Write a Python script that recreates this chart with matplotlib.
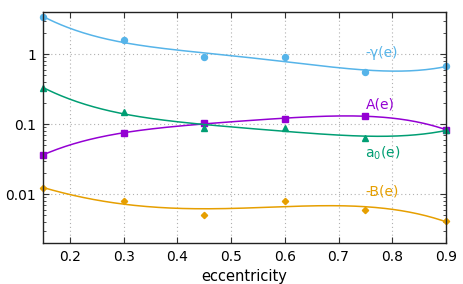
import numpy as np
import matplotlib
matplotlib.use("Agg")
import matplotlib.pyplot as plt
from matplotlib.ticker import LogLocator, FixedLocator, NullFormatter

# eccentricity samples and the four coefficient series
ecc = [0.15, 0.30, 0.45, 0.60, 0.75, 0.90]
gamma = [3.41, 1.57, 0.906, 0.897, 0.553, 0.674]
A = [0.0364, 0.0744, 0.103, 0.119, 0.131, 0.083]
a0 = [0.33, 0.148, 0.0885, 0.088, 0.0637, 0.082]
B = [0.0122, 0.0079, 0.0051, 0.0080, 0.0060, 0.0041]

x_ticks = [0.2, 0.3, 0.4, 0.5, 0.6, 0.7, 0.8, 0.9]
y_ticks = [0.01, 0.1, 1]
y_tick_labels = ["0.01", "0.1", "1"]

series = [
    (gamma, "#56b4e9", "o", 4.3, "-\u03b3(e)", 1.05),
    (A, "#9400d3", "s", 4.0, "A(e)", 0.189),
    (a0, "#009e73", "^", 4.3, "a$_0$(e)", 0.0385),
    (B, "#e69f00", "D", 3.2, "-B(e)", 0.0109),
]

plt.rcParams['font.family'] = ['DejaVu Sans']
fig = plt.figure(figsize=(4.63, 2.84), dpi=100)
ax = fig.add_axes([43 / 463, 1 - 243 / 284, 403 / 463, 231 / 284])

xs = np.linspace(0.15, 0.9, 200)
for vals, col, mk, ms, lab, ly in series:
    # smooth fit in log space, like the gnuplot fit curves
    coef = np.polyfit(ecc, np.log10(vals), 4)
    ax.plot(xs, 10 ** np.polyval(coef, xs), color=col, lw=1.1)
    ax.plot(ecc, vals, mk, color=col, ms=ms, mec=col, clip_on=False)
    ax.text(0.75, ly, lab, color=col, fontsize=10, ha='left', va='center')

ax.set_yscale('log')
ax.set_xlim(0.15, 0.9)
ax.set_ylim(0.002, 4)
ax.xaxis.set_major_locator(FixedLocator(x_ticks))
ax.set_xticklabels([f"{t:.1f}" for t in x_ticks])
ax.yaxis.set_major_locator(FixedLocator(y_ticks))
ax.set_yticklabels(y_tick_labels)
ax.yaxis.set_minor_locator(LogLocator(base=10, subs=np.arange(2, 10)))
ax.yaxis.set_minor_formatter(NullFormatter())
ax.tick_params(which='both', direction='in', top=True, right=True,
               labelsize=10, color='#333333', pad=5)
ax.tick_params(which='major', length=4.5, width=0.8)
ax.tick_params(which='minor', length=2.5, width=0.6)
ax.grid(True, which='major', color='#b0b0b0', linestyle=(0, (1, 2.5)), linewidth=0.8)
for sp in ax.spines.values():
    sp.set_color('#222222')
    sp.set_linewidth(1.0)
ax.set_xlabel('eccentricity', fontsize=10.5, labelpad=4)

fig.savefig('out.png', dpi=100)
